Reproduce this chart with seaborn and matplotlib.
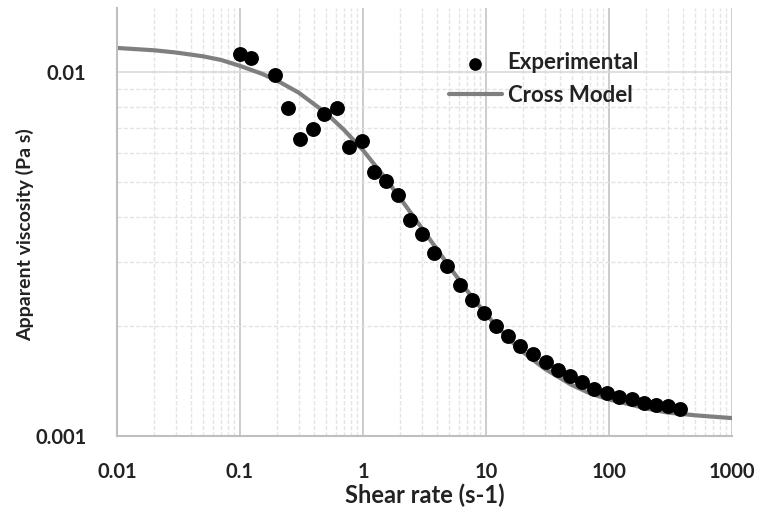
import matplotlib
matplotlib.use("Agg")
import matplotlib.pyplot as plt
import matplotlib.ticker as mticker
import seaborn as sns
import pandas as pd

shear_exp = [0.100, 0.123, 0.193, 0.245, 0.308, 0.392, 0.482, 0.615, 0.769, 0.98,
             1.23, 1.54, 1.93, 2.41, 3.02, 3.78, 4.82, 6.15, 7.7, 9.6,
             12.0, 15.1, 18.9, 24.1, 30.8, 38.5, 48.2, 60.3, 75.5, 95.6,
             120, 154, 193, 241, 303, 379]
visc_exp = [0.0112, 0.0109, 0.0098, 0.00796, 0.00655, 0.00697, 0.00767, 0.00796, 0.00622, 0.00646,
            0.00531, 0.00502, 0.00459, 0.00392, 0.00359, 0.00318, 0.00293, 0.00260, 0.00236, 0.00218,
            0.00200, 0.00188, 0.00177, 0.00168, 0.00160, 0.00152, 0.00146, 0.00141, 0.00135, 0.00131,
            0.00128, 0.00126, 0.00123, 0.00122, 0.00121, 0.00119]

# Cross model curve
shear_model = [0.01, 0.02, 0.03, 0.05, 0.07, 0.1, 0.15, 0.2, 0.3, 0.5, 0.7, 1, 1.5, 2, 3, 5, 7,
               10, 15, 20, 30, 50, 70, 100, 150, 200, 300, 500, 700, 1000]
visc_model = [0.01165, 0.01148, 0.01132, 0.01105, 0.01080, 0.01040, 0.00990, 0.00948, 0.00878,
              0.00772, 0.00694, 0.00610, 0.00514, 0.00451, 0.00373, 0.00293, 0.00251,
              0.00216, 0.00186, 0.00170, 0.00153, 0.00138, 0.00131, 0.00126, 0.00122,
              0.00119, 0.00116, 0.00114, 0.00113, 0.00112]

x_ticks = [0.01, 0.1, 1, 10, 100, 1000]
x_ticklabels = ["0.01", "0.1", "1", "10", "100", "1000"]
y_ticks = [0.001, 0.01]
y_ticklabels = ["0.001", "0.01"]

sns.set_style("white")
plt.rcParams['font.family'] = ['Lato', 'DejaVu Sans']

df_exp = pd.DataFrame({"shear": shear_exp, "visc": visc_exp})
df_model = pd.DataFrame({"shear": shear_model, "visc": visc_model})

fig = plt.figure(figsize=(7.58, 5.18), dpi=100)
ax = fig.add_axes([117/758, 1-436/518, 615/758, 428/518])

ax.set_xscale("log")
ax.set_yscale("log")
ax.set_xlim(0.01, 1000)
ax.set_ylim(0.001, 0.0150)

# grid
ax.grid(True, which="minor", axis="both", color="#e4e4e4", linestyle=(0, (3, 1.5)), linewidth=1.0)
ax.grid(True, which="major", axis="x", color="#c4c4c4", linestyle="-", linewidth=1.2)
ax.grid(True, which="major", axis="y", color="#d9d9d9", linestyle="-", linewidth=1.2)
ax.set_axisbelow(True)

sns.lineplot(data=df_model, x="shear", y="visc", ax=ax, color="#7f7f7f", linewidth=3.0,
             label="Cross Model", zorder=2, sort=True, estimator=None)
sns.scatterplot(data=df_exp, x="shear", y="visc", ax=ax, color="black", s=115,
                edgecolor="black", linewidth=0, label="Experimental", zorder=3)

ax.set_xticks(x_ticks)
ax.set_xticklabels(x_ticklabels)
ax.set_yticks(y_ticks)
ax.set_yticklabels(y_ticklabels)
ax.xaxis.set_minor_locator(mticker.LogLocator(base=10, subs=range(2, 10), numticks=100))
ax.yaxis.set_minor_locator(mticker.LogLocator(base=10, subs=range(2, 10), numticks=100))
ax.xaxis.set_minor_formatter(mticker.NullFormatter())
ax.yaxis.set_minor_formatter(mticker.NullFormatter())

for lab in ax.get_xticklabels() + ax.get_yticklabels():
    lab.set_fontweight("bold")
    lab.set_fontsize(14.5)
    lab.set_color("#222222")

ax.tick_params(axis="both", which="major", direction="out", length=6, width=1.2, color="#bfbfbf")
ax.tick_params(axis="both", which="minor", direction="out", length=4, width=1.0, color="#bfbfbf")
ax.tick_params(axis="x", which="major", pad=13)
ax.tick_params(axis="y", which="major", pad=16)

for side in ["top", "right"]:
    ax.spines[side].set_visible(False)
for side in ["left", "bottom"]:
    ax.spines[side].set_color("#bfbfbf")
    ax.spines[side].set_linewidth(1.5)

ax.set_xlabel("Shear rate (s-1)", fontsize=17, fontweight="bold", color="#222222", labelpad=1)
ax.set_ylabel("")
fig.text(25 / 758, 1 - 235 / 518, "Apparent viscosity (Pa s)", rotation=90,
         ha="center", va="center", fontsize=14, fontweight="bold", color="#222222")

handles, labels = ax.get_legend_handles_labels()
order = [labels.index("Experimental"), labels.index("Cross Model")]
leg = ax.legend([handles[i] for i in order], [labels[i] for i in order],
                loc="upper left", bbox_to_anchor=(0.507, 0.943), frameon=False,
                prop={"weight": "bold", "size": 16}, handlelength=2.4, handletextpad=0.25,
                labelspacing=0.5, markerscale=0.85)
for t in leg.get_texts():
    t.set_color("#222222")

fig.savefig("out.png", dpi=100)
